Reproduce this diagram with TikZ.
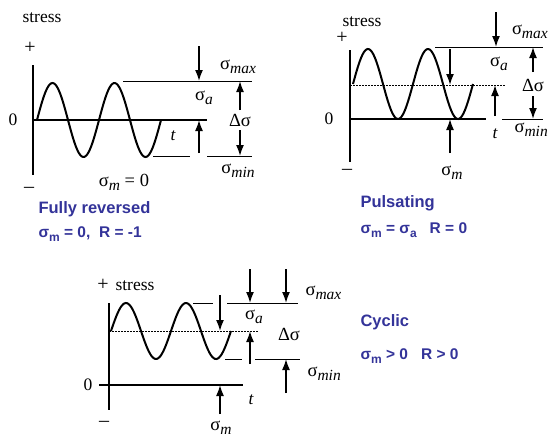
\documentclass[tikz,border=0pt]{standalone}
\usepackage{fontspec}
\setmainfont{Liberation Serif}
\newfontfamily\arialfont{Liberation Sans}
\usetikzlibrary{arrows.meta}
\definecolor{slideblue}{RGB}{51,51,153}
% sigma with an italic index, as in the sketches
\newcommand{\sigidx}[1]{σ\raisebox{-0.45ex}{\fontsize{15.5}{15.5}\selectfont\itshape #1}}
% sigma with an upright index, for the blue captions
\newcommand{\sigcap}[1]{σ\raisebox{-0.5ex}{\fontsize{12}{12}\selectfont #1}}

\begin{document}
\begin{tikzpicture}[
        x=1pt, y=-1pt,
        font=\fontsize{17.5}{17.5}\selectfont,
        axis/.style={line width=1.1pt},
        level/.style={line width=1pt},
        mean/.style={line width=1pt, dash pattern=on 1.5pt off 1.5pt},
        wave/.style={line width=2pt, smooth},
        pointer/.style={-{Latex[length=11pt, width=8pt]}, line width=1.6pt},
        sign/.style={font=\fontsize{20}{20}\selectfont},
        sig/.style={font=\fontsize{18.5}{18.5}\selectfont},
        caption/.style={anchor=base west, text=slideblue, font=\arialfont\bfseries\fontsize{16.5}{16.5}\selectfont},
        ratio/.style={anchor=base west, text=slideblue, font=\arialfont\bfseries\fontsize{15.5}{15.5}\selectfont}
    ]
    \useasboundingbox (0,0) rectangle (549,437);

    % ---------------- fully reversed
    \coordinate (fr-o) at (33,120);
    \coordinate (fr-top) at (33,65);
    \coordinate (fr-bot) at (33,175);
    \coordinate (fr-zend) at (207,120);
    \coordinate (fr-max-l) at (123,81);
    \coordinate (fr-max-r) at (252,81);
    \coordinate (fr-min1-l) at (153,156);
    \coordinate (fr-min1-r) at (190,156);
    \coordinate (fr-min2-l) at (207,156);
    \coordinate (fr-min2-r) at (252,156);
    \coordinate (fr-a1) at (199,46);
    \coordinate (fr-a2) at (199,153);
    \coordinate (fr-d1) at (240,110);
    \coordinate (fr-d2) at (240,130);

    \draw[axis] (fr-top) -- (fr-bot);
    \draw[axis] (fr-o) -- (fr-zend);
    \draw[wave] plot[domain=37:161, samples=90] (\x, {120-37*sin((\x-37)/62*360)});
    \draw[level] (fr-max-l) -- (fr-max-r);
    \draw[level] (fr-min1-l) -- (fr-min1-r);
    \draw[level] (fr-min2-l) -- (fr-min2-r);
    \draw[pointer] (fr-a1) -- (fr-a1 |- fr-max-l);
    \draw[pointer] (fr-a2) -- (fr-a2 |- fr-o);
    \draw[pointer] (fr-d1) -- (fr-d1 |- fr-max-l);
    \draw[pointer] (fr-d2) -- (fr-d2 |- fr-min2-l);

    \node[anchor=base] (fr-stress) at (42,22) {stress};
    \node[sign] (fr-plus) at (30,48) {+};
    \node[sign] (fr-minus) at (29,190) {--};
    \node (fr-zero) at (13,120) {0};
    \node (fr-t) at (173,136) {\itshape t};
    \node[sig] (fr-smax) at (238,67) {\sigidx{max}};
    \node[sig] (fr-smin) at (238,171) {\sigidx{min}};
    \node[sig] (fr-sa) at (204,98) {\sigidx{a}};
    \node[sig] (fr-ds) at (240,120) {Δσ};
    \node[sig] (fr-sm) at (124,182) {\sigidx{m} = 0};
    \node[caption] (fr-title) at (35,213) {Fully reversed};
    \node[ratio] (fr-ratio) at (35,237) {\sigcap{m} = 0,\ \ R = -1};

    % ---------------- pulsating
    \coordinate (pu-o) at (350,119);
    \coordinate (pu-top) at (350,50);
    \coordinate (pu-bot) at (350,162);
    \coordinate (pu-zend) at (486,119);
    \coordinate (pu-mean-r) at (505,85);
    \coordinate (pu-max-l) at (435,47);
    \coordinate (pu-max-r) at (543,47);
    \coordinate (pu-min-l) at (502,119);
    \coordinate (pu-min-r) at (543,119);
    \coordinate (pu-a1) at (496,12);
    \coordinate (pu-a2) at (450,49);
    \coordinate (pu-a3) at (495,116);
    \coordinate (pu-a4) at (450,153);
    \coordinate (pu-d1) at (533,72);
    \coordinate (pu-d2) at (533,96);

    \draw[axis] (pu-top) -- (pu-bot);
    \draw[axis] (pu-o) -- (pu-zend);
    \draw[mean] (pu-o |- pu-mean-r) -- (pu-mean-r);
    \draw[wave] plot[domain=353:473, samples=90] (\x, {84-35*sin((\x-353)*6)});
    \draw[level] (pu-max-l) -- (pu-max-r);
    \draw[level] (pu-min-l) -- (pu-min-r);
    \draw[pointer] (pu-a1) -- (pu-a1 |- pu-max-l);
    \draw[pointer] (pu-a2) -- (pu-a2 |- pu-mean-r);
    \draw[pointer] (pu-a3) -- (pu-a3 |- pu-mean-r);
    \draw[pointer] (pu-a4) -- (pu-a4 |- pu-o);
    \draw[pointer] (pu-d1) -- (pu-d1 |- pu-max-l);
    \draw[pointer] (pu-d2) -- (pu-d2 |- pu-min-l);

    \node[anchor=base] (pu-stress) at (362,26) {stress};
    \node[sign] (pu-plus) at (342,38) {+};
    \node[sign] (pu-minus) at (347,172) {--};
    \node (pu-zero) at (329,119) {0};
    \node (pu-t) at (495,134) {\itshape t};
    \node[sig, anchor=east, inner xsep=1pt] (pu-smax) at (549,32) {\sigidx{max}};
    \node[sig, anchor=east, inner xsep=1pt] (pu-smin) at (549,130) {\sigidx{min}};
    \node[sig] (pu-sa) at (499,64) {\sigidx{a}};
    \node[sig] (pu-ds) at (533,85) {Δσ};
    \node[sig] (pu-sm) at (452,173) {\sigidx{m}};
    \node[caption] (pu-title) at (357,207) {Pulsating};
    \node[ratio] (pu-ratio) at (357,233) {\sigcap{m} = \sigcap{a}\ \ \ R = 0};

    % ---------------- cyclic
    \coordinate (cy-o) at (109,385);
    \coordinate (cy-zl) at (99,385);
    \coordinate (cy-top) at (109,303);
    \coordinate (cy-bot) at (109,410);
    \coordinate (cy-zend) at (243,385);
    \coordinate (cy-mean-r) at (258,331);
    \coordinate (cy-max1-l) at (193,303);
    \coordinate (cy-max1-r) at (213,303);
    \coordinate (cy-max2-l) at (227,303);
    \coordinate (cy-max2-r) at (298,303);
    \coordinate (cy-min1-l) at (225,359);
    \coordinate (cy-min1-r) at (242,359);
    \coordinate (cy-min2-l) at (255,359);
    \coordinate (cy-min2-r) at (300,359);
    \coordinate (cy-a1) at (220,295);
    \coordinate (cy-a2) at (250,269);
    \coordinate (cy-a3) at (250,364);
    \coordinate (cy-a4) at (286,269);
    \coordinate (cy-a5) at (286,393);
    \coordinate (cy-a6) at (220,414);

    \draw[axis] (cy-top) -- (cy-bot);
    \draw[axis] (cy-zl) -- (cy-zend);
    \draw[mean] (cy-o |- cy-mean-r) -- (cy-mean-r);
    \draw[wave] plot[domain=111:231, samples=90] (\x, {331-28*sin((\x-111)*6)});
    \draw[level] (cy-max1-l) -- (cy-max1-r);
    \draw[level] (cy-max2-l) -- (cy-max2-r);
    \draw[level] (cy-min1-l) -- (cy-min1-r);
    \draw[level] (cy-min2-l) -- (cy-min2-r);
    \draw[pointer] (cy-a1) -- (cy-a1 |- cy-mean-r);
    \draw[pointer] (cy-a2) -- (cy-a2 |- cy-max2-l);
    \draw[pointer] (cy-a3) -- (cy-a3 |- cy-mean-r);
    \draw[pointer] (cy-a4) -- (cy-a4 |- cy-max2-l);
    \draw[pointer] (cy-a5) -- (cy-a5 |- cy-min2-l);
    \draw[pointer] (cy-a6) -- (cy-a6 |- cy-o);

    \node[sign] (cy-plus) at (103,285) {+};
    \node[anchor=base] (cy-stress) at (135,290) {stress};
    \node[sign] (cy-minus) at (104,424) {--};
    \node (cy-zero) at (88,385) {0};
    \node (cy-t) at (251,400) {\itshape t};
    \node[sig, anchor=west] (cy-smax) at (302,293) {\sigidx{max}};
    \node[sig, anchor=west] (cy-smin) at (304,374) {\sigidx{min}};
    \node[sig] (cy-sa) at (254,317) {\sigidx{a}};
    \node[sig] (cy-ds) at (289,334) {Δσ};
    \node[sig] (cy-sm) at (221,428) {\sigidx{m}};
    \node[caption] (cy-title) at (357,326) {Cyclic};
    \node[ratio] (cy-ratio) at (357,359) {\sigcap{m} > 0\ \ \ R > 0};
\end{tikzpicture}
\end{document}
